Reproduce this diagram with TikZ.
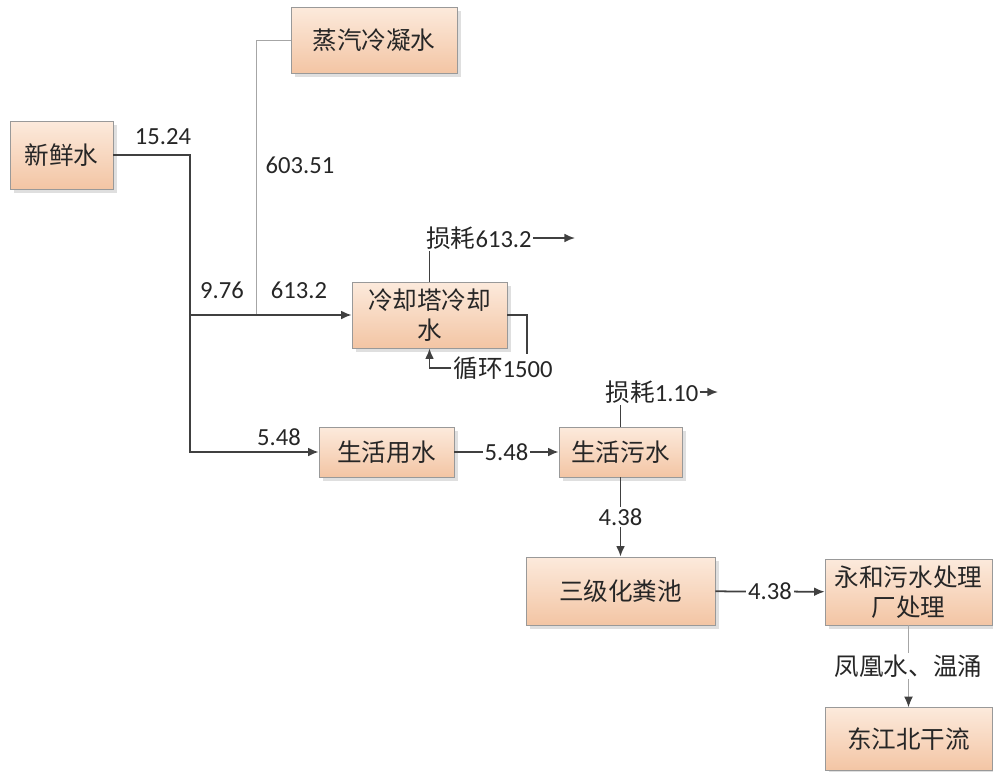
\documentclass[tikz,border=0pt]{standalone}
\usepackage{fontspec}
\setmainfont{Carlito}
\newfontfamily\cjk{Noto Sans CJK SC}
\usetikzlibrary{shadows,arrows.meta}
\definecolor{boxtop}{HTML}{FCEADC}
\definecolor{boxbot}{HTML}{F3C5A4}
\definecolor{flowgray}{HTML}{404040}

\begin{document}
\begin{tikzpicture}[x=0.02cm,y=-0.02cm,>={Latex[length=6pt,width=5pt]},
   font=\fontsize{14pt}{17pt}\selectfont,text=black!85,
   unit/.style={draw=gray!80,top color=boxtop,bottom color=boxbot,inner sep=0pt,align=center,
      drop shadow={opacity=0.25,shadow xshift=2pt,shadow yshift=-2pt}},
   flow/.style={draw=flowgray,line width=1pt},
   feed/.style={draw=gray!70,line width=0.5pt},
   lbl/.style={fill=white,inner sep=1pt},
   tight/.style={inner sep=0.5pt}]
   % Frame
   \useasboundingbox (0,0) rectangle (993,771);
   % Boxes
   \node [unit,minimum width=2.06cm,minimum height=1.36cm] (fresh)    at (61.5,155) {\cjk 新鲜水};
   \node [unit,minimum width=3.32cm,minimum height=1.32cm] (steam)    at (374,40)   {\cjk 蒸汽冷凝水};
   \node [unit,minimum width=3.10cm,minimum height=1.32cm] (tower)    at (429.5,315) {\cjk 冷却塔冷却\\\cjk 水};
   \node [unit,minimum width=2.70cm,minimum height=1.00cm] (domestic) at (386.5,452) {\cjk 生活用水};
   \node [unit,minimum width=2.46cm,minimum height=1.00cm] (sewage)   at (620.5,452) {\cjk 生活污水};
   \node [unit,minimum width=3.78cm,minimum height=1.36cm] (septic)   at (620.5,591) {\cjk 三级化粪池};
   \node [unit,minimum width=3.34cm,minimum height=1.32cm] (plant)    at (908.5,592) {\cjk 永和污水处理\\\cjk 厂处理};
   \node [unit,minimum width=3.34cm,minimum height=1.26cm] (river)    at (908.5,739) {\cjk 东江北干流};
   % Branch points
   \coordinate (split) at (190,315);
   \coordinate (join)  at (256,315);
   \coordinate (cyc)   at (527,315);
   \coordinate (lossend1) at (575,238);
   \coordinate (lossend2) at (718,392);
   % Fresh water and condensate
   \draw [feed] (steam.west) -| (join);
   \draw [flow,->] (fresh.east) -| (split) |- (domestic.west);
   \draw [flow,->] (split) -- (tower.west);
   \node (q1524) at (163,137) {15.24};
   \node (q60351) at (300,165) {603.51};
   \node (q976) at (222,290) {9.76};
   \node (q6132) at (299,290) {613.2};
   \node (q548a) at (279,437) {5.48};
   % Cooling tower loss and recycle
   \node [tight] (loss1) at (479,238) {{\cjk 损耗}613.2};
   \draw [flow] (tower.north) -- (tower.north |- loss1.south);
   \draw [flow,->] (loss1.east) -- (lossend1);
   \node [lbl] (cycle) at (503,368) {{\cjk 循环}1500};
   \draw [flow] (tower.east) -- (cyc) -- (cyc |- cycle.north);
   \draw [flow,->] (cycle.west) -| (tower.south);
   % Domestic water chain
   \draw [flow,->] (domestic) -- node [lbl] (q548b) {5.48} (sewage);
   \node [tight] (loss2) at (652,392) {{\cjk 损耗}1.10};
   \draw [flow] (sewage.north) -- (sewage.north |- loss2.south);
   \draw [flow,->] (loss2.east) -- (lossend2);
   \draw [flow,->] (sewage) -- node [lbl] (q438a) {4.38} (septic);
   \draw [flow,->] (septic) -- node [lbl] (q438b) {4.38} (plant);
   \draw [feed,-{Latex[color=flowgray,length=6pt,width=5pt]}] (plant) -- node [lbl] (via) {\cjk 凤凰水、温涌} (river);
\end{tikzpicture}
\end{document}
